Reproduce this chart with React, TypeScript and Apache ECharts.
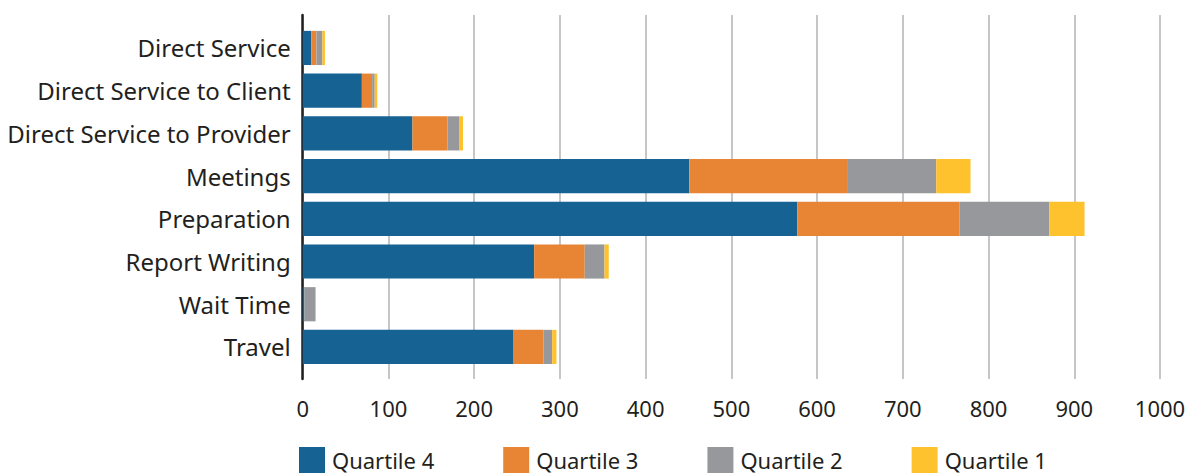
import React, { useEffect, useRef } from "react";
import * as echarts from "echarts";

const categories = [
  "Direct Service",
  "Direct Service to Client",
  "Direct Service to Provider",
  "Meetings",
  "Preparation",
  "Report Writing",
  "Wait Time",
  "Travel",
];
const seriesNames = ["Quartile 4", "Quartile 3", "Quartile 2", "Quartile 1"];
const quartile4 = [10, 69, 128, 451, 577, 270, 2, 246];
const quartile3 = [6, 12, 41, 184, 189, 59, 0, 35];
const quartile2 = [7, 3, 14, 104, 105, 23, 13, 10];
const quartile1 = [3, 3, 4, 40, 41, 5, 0, 5];
const xTicks = [0, 1000, 100];
const colors = ["#166293", "#E88534", "#97989B", "#FEC22E"];

const FONT = "Noto Sans";
const TEXT = "#231f20";

export default function App() {
  const ref = useRef<HTMLDivElement>(null);
  useEffect(() => {
    if (!ref.current) return;
    const chart = echarts.init(ref.current, undefined, { renderer: "svg" });
    const values = [quartile4, quartile3, quartile2, quartile1];
    chart.setOption({
      animation: false,
      color: colors,
      textStyle: { fontFamily: FONT, color: TEXT },
      legend: {
        left: 294,
        top: 442,
        padding: 5,
        itemWidth: 26,
        itemHeight: 26,
        itemGap: 69,
        icon: "rect",
        textStyle: { fontFamily: FONT, fontSize: 22, lineHeight: 24, color: TEXT, padding: [0, 0, 0, 2] },
        data: seriesNames,
      },
      grid: [
        { left: 302.7, right: 31, top: 26.6, height: 341.7, containLabel: false },
        { left: 302.7, right: 31, top: 15, height: 364, containLabel: false },
      ],
      xAxis: [
        {
          gridIndex: 0,
          type: "value",
          min: xTicks[0],
          max: xTicks[1],
          interval: xTicks[2],
          show: false,
        },
        {
          gridIndex: 1,
          type: "value",
          min: xTicks[0],
          max: xTicks[1],
          interval: xTicks[2],
          axisLine: { show: false },
          axisTick: { show: false },
          splitLine: { show: true, lineStyle: { color: "#c6c6ca", width: 2 } },
          axisLabel: {
            fontFamily: FONT,
            fontSize: 22,
            color: TEXT,
            margin: 18,
            formatter: (v: number) => String(v),
          },
        },
      ],
      yAxis: [
        {
          gridIndex: 0,
          type: "category",
          inverse: true,
          data: categories,
          axisLine: { show: false },
          axisTick: { show: false },
          axisLabel: { fontFamily: FONT, fontSize: 24, color: TEXT, margin: 12 },
        },
        {
          gridIndex: 1,
          type: "value",
          min: 0,
          max: 1,
          axisLine: { show: true, lineStyle: { color: TEXT, width: 2.5 } },
          axisTick: { show: false },
          axisLabel: { show: false },
          splitLine: { show: false },
        },
      ],
      series: seriesNames.map((name, i) => ({
        name,
        type: "bar",
        stack: "total",
        xAxisIndex: 0,
        yAxisIndex: 0,
        barWidth: "80%",
        data: values[i],
        itemStyle: { color: colors[i] },
        z: 5,
      })),
    });
    return () => chart.dispose();
  }, []);
  return (
    <div
      ref={ref}
      style={{ position: "fixed", left: 0, top: 0, width: 1191, height: 475, background: "#fff" }}
    />
  );
}
